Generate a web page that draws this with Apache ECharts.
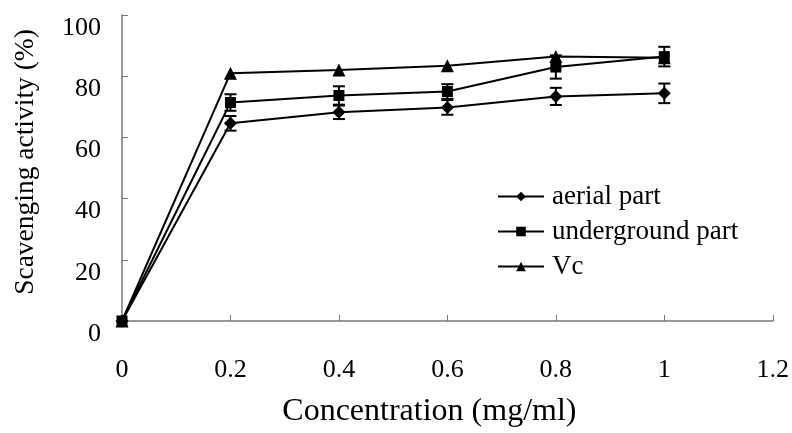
<!DOCTYPE html>
<html>
<head>
<meta charset="utf-8">
<script src="https://cdn.jsdelivr.net/npm/echarts@6/dist/echarts.min.js"></script>
<style>
  html, body { margin: 0; padding: 0; background: #fff; }
  #chart { width: 792px; height: 433px; }
</style>
</head>
<body>
<div id="chart"></div>
<script>
// concentrations (mg/ml)
const conc = [0, 0.2, 0.4, 0.6, 0.8, 1];
// scavenging activity (%)
const aerial = [0, 64.6, 68.2, 69.8, 73.4, 74.4];
const aerialErr = [0, 2.4, 2.2, 2.4, 2.8, 3.2];
const underground = [0, 71.4, 73.7, 75, 83, 86.4];
const undergroundErr = [0, 2.7, 3, 2.4, 3.8, 3.2];
const vc = [0, 81, 82, 83.4, 86.4, 86];

const font = 'Liberation Serif';

const pairs = ys => conc.map((x, i) => [x, ys[i]]);
const errData = (ys, es) => conc.map((x, i) => [x, ys[i] - es[i], ys[i] + es[i]]).filter((d, i) => es[i] > 0);

// error bars with caps
function errorBar(params, api) {
  const lo = api.coord([api.value(0), api.value(1)]);
  const hi = api.coord([api.value(0), api.value(2)]);
  const w = 6;
  const style = { stroke: '#000', lineWidth: 2 };
  return {
    type: 'group',
    children: [
      { type: 'line', shape: { x1: lo[0], y1: lo[1], x2: hi[0], y2: hi[1] }, style },
      { type: 'line', shape: { x1: lo[0] - w, y1: lo[1], x2: lo[0] + w, y2: lo[1] }, style },
      { type: 'line', shape: { x1: hi[0] - w, y1: hi[1], x2: hi[0] + w, y2: hi[1] }, style }
    ]
  };
}

const lineSeries = (name, ys, symbol, size) => ({
  name,
  type: 'line',
  data: pairs(ys),
  symbol,
  symbolSize: size,
  showAllSymbol: true,
  lineStyle: { color: '#000', width: 2 },
  itemStyle: { color: '#000' },
  z: 3
});

const chart = echarts.init(document.getElementById('chart'));
chart.setOption({
  animation: false,
  backgroundColor: '#fff',
  grid: { left: 122, right: 14, top: 15, bottom: 109 },
  legend: {
    left: 497,
    top: 183,
    padding: 0,
    orient: 'vertical',
    itemWidth: 46,
    itemHeight: 12,
    itemGap: 8,
    textStyle: { fontFamily: font, fontSize: 27, color: '#000', padding: [14, 0, 0, 3] },
    data: ['aerial part', 'underground part', 'Vc']
  },
  xAxis: {
    type: 'value',
    min: 0,
    max: 1.2,
    interval: 0.2,
    name: 'Concentration (mg/ml)',
    nameLocation: 'middle',
    nameGap: 75,
    nameTextStyle: { fontFamily: font, fontSize: 32, color: '#000', padding: [0, 36, 0, 0] },
    axisLine: { lineStyle: { color: '#777', width: 1.5 } },
    axisTick: { inside: true, length: 6, lineStyle: { color: '#777' } },
    splitLine: { show: false },
    axisLabel: {
      fontFamily: font, fontSize: 26, color: '#000', margin: 36,
      formatter: v => String(+v.toFixed(1))
    }
  },
  yAxis: {
    type: 'value',
    min: 0,
    max: 100,
    interval: 20,
    name: 'Scavenging activity (%)',
    nameLocation: 'middle',
    nameGap: 82,
    nameTextStyle: { fontFamily: font, fontSize: 27.5, color: '#000', padding: [0, 0, 0, 12] },
    axisLine: { show: true, lineStyle: { color: '#777', width: 1.5 } },
    axisTick: { show: true, inside: true, length: 6, lineStyle: { color: '#777' } },
    splitLine: { show: false },
    axisLabel: {
      fontFamily: font, fontSize: 26, color: '#000', margin: 21,
      verticalAlign: 'top', lineHeight: 26
    }
  },
  series: [
    lineSeries('aerial part', aerial, 'diamond', 13),
    lineSeries('underground part', underground, 'rect', 11),
    lineSeries('Vc', vc, 'triangle', 13),
    {
      type: 'custom',
      renderItem: errorBar,
      data: errData(aerial, aerialErr),
      encode: { x: 0, y: [1, 2] },
      z: 4
    },
    {
      type: 'custom',
      renderItem: errorBar,
      data: errData(underground, undergroundErr),
      encode: { x: 0, y: [1, 2] },
      z: 4
    }
  ]
});
</script>
</body>
</html>
